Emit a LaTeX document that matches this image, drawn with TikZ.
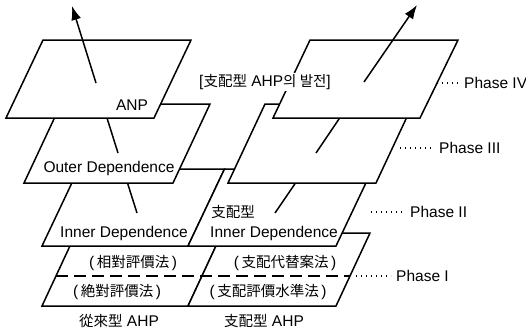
\documentclass[tikz,border=0pt]{standalone}
\usepackage{fontspec}
\setmainfont{Liberation Sans}
\newfontfamily\krfont{Noto Sans CJK KR}
\newcommand\krt[1]{{\krfont\fontsize{14.5}{17}\selectfont #1}}
\usetikzlibrary{arrows.meta}
\begin{document}
\begin{tikzpicture}[x=1pt,y=-1pt,
  plane/.style={draw=black, fill=white, line width=1.5pt, line join=miter},
  arr/.style={line width=1.5pt},
  tip/.style={line width=1.5pt, -{Latex[length=14pt,width=10pt]}},
  lbl/.style={font=\fontsize{15.5}{17}\selectfont, inner sep=1pt},
  dashline/.style={line width=1.5pt, dash pattern=on 12pt off 6pt},
  dotline/.style={line width=1.2pt, dash pattern=on 1.2pt off 3.8pt},
]
\useasboundingbox (0,0) rectangle (526,332);

% ---------- Phase I ----------
\draw[plane] (42,306) -- (188,306) -- (222,233) -- (76,233) -- cycle;
\draw[plane] (188,306) -- (336,306) -- (370,233) -- (222,233) -- cycle;
\coordinate (dA) at (56,276);
\coordinate (dB) at (350,276);
\draw[dashline] (dA) -- (dB);
\node[lbl] (t1a) at (133,263) {(\,\krt{相對評價法}\,)};
\node[lbl] (t1b) at (285,263) {(\,\krt{支配代替案法}\,)};
\node[lbl] (t1c) at (117,292) {(\,\krt{絶對評價法}\,)};
\node[lbl] (t1d) at (268,292) {(\,\krt{支配評價水準法}\,)};

% ---------- Phase II ----------
\draw[plane] (42,246) -- (188,246) -- (224.5,169) -- (78.5,169) -- cycle;
\draw[plane] (188,246) -- (336,246) -- (372.5,169) -- (224.5,169) -- cycle;
\node[lbl] (t2a) at (124,233) {Inner Dependence};
\node[lbl] (t2b) at (233,212) {\krt{支配型}};
\node[lbl] (t2c) at (274,233) {Inner Dependence};

\coordinate (La) at (137,213);
\coordinate (Lb) at (118,153);
\coordinate (Lc) at (96,83);
\coordinate (Lt) at (72,6);
\coordinate (Ra) at (275,213);
\coordinate (Rb) at (316,153);
\coordinate (Rc) at (364,82);
\coordinate (Rt) at (417,5);
\draw[arr] (La) -- (Lb);
\draw[arr] (Ra) -- (Rb);

% ---------- Phase III ----------
\draw[plane] (24,183) -- (173,183) -- (210,104) -- (61,104) -- cycle;
\draw[plane] (228,183) -- (376,183) -- (413,104) -- (265,104) -- cycle;
\node[lbl] (t3a) at (109,168) {Outer Dependence};
\draw[arr] (Lb) -- (Lc);
\draw[arr] (Rb) -- (Rc);

% ---------- Phase IV ----------
\draw[plane] (6,118) -- (154,118) -- (191,40) -- (43,40) -- cycle;
\draw[plane] (273,118) -- (420,118) -- (458,40) -- (310,40) -- cycle;
\node[lbl] (t4a) at (132,105) {ANP};
\draw[tip] (Lc) -- (Lt);
\draw[tip] (Rc) -- (Rt);

% ---------- heading ----------
\node[lbl, fill=white, inner sep=1.5pt] (head) at (265,82) {[\krt{支配型} AHP\krt{의 발전}]};

% ---------- phase labels ----------
\coordinate (d4) at (437,83);
\coordinate (d3) at (400,148);
\coordinate (d2) at (371,212);
\coordinate (d1) at (356,276);
\node[lbl, anchor=west] (p4) at (463,83) {Phase IV};
\node[lbl, anchor=west] (p3) at (438,148) {Phase III};
\node[lbl, anchor=west] (p2) at (409,212) {Phase II};
\node[lbl, anchor=west] (p1) at (395,276) {Phase I};
\draw[dotline] (d4) -- ([xshift=-4pt]p4.west);
\draw[dotline] (d3) -- ([xshift=-4pt]p3.west);
\draw[dotline] (d2) -- ([xshift=-4pt]p2.west);
\draw[dotline] (d1) -- ([xshift=-4pt]p1.west);

% ---------- bottom labels ----------
\node[lbl] (b1) at (119,321) {\krt{從來型} AHP};
\node[lbl] (b2) at (264,321) {\krt{支配型} AHP};
\end{tikzpicture}
\end{document}
